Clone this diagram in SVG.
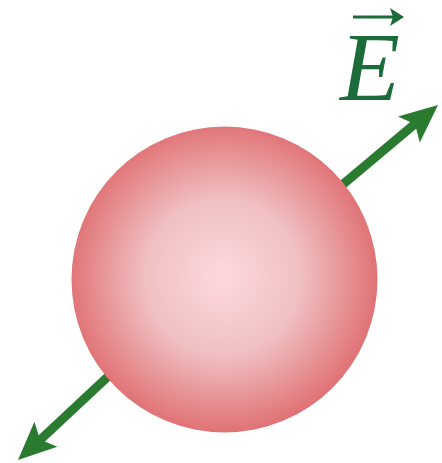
<svg xmlns="http://www.w3.org/2000/svg" width="442" height="463" viewBox="0 0 442 463">
  <defs>
    <radialGradient id="ball" cx="223" cy="277" r="155" gradientUnits="userSpaceOnUse">
      <stop offset="0" stop-color="#fdd9dc"/>
      <stop offset="0.5" stop-color="#f0c0c3"/>
      <stop offset="1" stop-color="#e07275"/>
    </radialGradient>
    <style>
      .shaft { stroke: #2a7a30; stroke-width: 9; fill: none; }
      .head { fill: #2a7a30; }
      .lbl { font-family: "Liberation Serif", "DejaVu Serif", serif; font-style: italic; fill: #1c6b3a; }
    </style>
  </defs>
  <g id="connectors">
    <line class="shaft" x1="335" y1="191" x2="416" y2="123"/>
    <polygon class="head" points="438,105 419.8,142.4 415,124.3 398,116.4"/>
    <line class="shaft" x1="115" y1="370" x2="39" y2="441"/>
    <polygon class="head" points="18,460 57.4,446.7 40,439.6 34.4,421.7"/>
  </g>
  <g id="sphere">
    <circle cx="224.5" cy="279.5" r="153" fill="url(#ball)"/>
  </g>
  <g id="label">
    <text class="lbl" x="340" y="100" font-size="98">E</text>
    <line x1="353" y1="17" x2="398" y2="17" stroke="#1c6b3a" stroke-width="3"/>
    <polygon points="404,17 390,8 393,17 390,26" fill="#1c6b3a"/>
  </g>
</svg>
